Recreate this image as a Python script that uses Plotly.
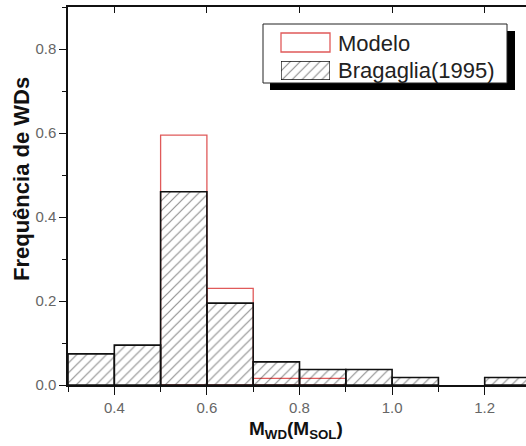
import plotly.graph_objects as go

# ---- data ----
bin_left = [0.3, 0.4, 0.5, 0.6, 0.7, 0.8, 0.9, 1.0, 1.1, 1.2]
modelo = [None, None, 0.595, 0.23, 0.016, 0.016, None, None, None, None]
bragaglia = [0.074, 0.095, 0.46, 0.195, 0.055, 0.037, 0.037, 0.018, None, 0.018]
x_ticks = [0.4, 0.6, 0.8, 1.0, 1.2]
y_ticks = [0.0, 0.2, 0.4, 0.6, 0.8]
bin_w = 0.1

W, H = 526, 446
L, R, T, B = 68, 0, 7, 61
PW, PH = W - L - R, H - T - B


def px(x):
    return (x - L) / PW


def py(y):
    return (H - B - y) / PH


centers = [b + bin_w / 2 for b in bin_left]
FONT = "Liberation Sans, Arial, sans-serif"
HATCH = dict(shape="/", fillmode="overlay", fgcolor="#222", size=7, solidity=0.17)

fig = go.Figure()
fig.add_trace(go.Bar(
    x=centers, y=modelo, width=bin_w, name="Modelo",
    marker=dict(color="rgba(0,0,0,0)", line=dict(color="#e05a5a", width=1.3)),
    showlegend=False, hoverinfo="skip"))
fig.add_trace(go.Bar(
    x=centers, y=bragaglia, width=bin_w, name="Bragaglia(1995)",
    marker=dict(color="rgba(0,0,0,0)", line=dict(color="#111", width=1.6),
                pattern=HATCH),
    showlegend=False, hoverinfo="skip"))
# legend sample (hatched) on auxiliary axes
fig.add_trace(go.Bar(
    x=[0], y=[1], width=1, xaxis="x3", yaxis="y3", cliponaxis=False,
    marker=dict(color="rgba(0,0,0,0)", line=dict(color="#111", width=1.3),
                pattern=HATCH),
    showlegend=False, hoverinfo="skip"))
fig.add_trace(go.Scatter(x=[None], y=[None], xaxis="x2", showlegend=False,
                         hoverinfo="skip"))

shapes = [
    # legend shadow
    dict(type="rect", xref="paper", yref="paper", layer="below",
         x0=px(270), x1=px(515), y0=py(90), y1=py(31),
         fillcolor="black", line=dict(width=0)),
    # legend box
    dict(type="rect", xref="paper", yref="paper", layer="below",
         x0=px(263), x1=px(507), y0=py(83), y1=py(24),
         fillcolor="white", line=dict(color="#222", width=1)),
    # red sample
    dict(type="rect", xref="paper", yref="paper",
         x0=px(281), x1=px(330), y0=py(52), y1=py(33),
         fillcolor="rgba(0,0,0,0)", line=dict(color="#e05a5a", width=1.3)),
]

annotations = [
    dict(text="Modelo", x=px(336), y=py(43), xref="paper", yref="paper",
         xanchor="left", yanchor="middle", showarrow=False,
         font=dict(family=FONT, size=22, color="#222")),
    dict(text="Bragaglia(1995)", x=px(336), y=py(70.5), xref="paper", yref="paper",
         xanchor="left", yanchor="middle", showarrow=False,
         font=dict(family=FONT, size=22, color="#222")),
    dict(text="<b>Frequência de WDs</b>", x=px(21), y=py(179), xref="paper",
         yref="paper", xanchor="center", yanchor="middle", textangle=-90,
         showarrow=False, font=dict(family=FONT, size=22, color="#111")),
    dict(text="<b>M<sub>WD</sub>(M<sub>SOL</sub>)</b>", x=px(296), y=py(430),
         xref="paper", yref="paper", xanchor="center", yanchor="middle",
         showarrow=False, font=dict(family=FONT, size=19, color="#111")),
]

x_range = [0.3, 0.3 + PW / 463.0]

fig.update_layout(
    width=W, height=H, autosize=False,
    margin=dict(l=L, r=R, t=T, b=B, pad=0),
    paper_bgcolor="white", plot_bgcolor="white",
    barmode="overlay", showlegend=False,
    font=dict(family=FONT),
    shapes=shapes, annotations=annotations,
    xaxis=dict(range=x_range, tickvals=x_ticks,
               ticktext=[f"{v:.1f}" for v in x_ticks],
               ticks="outside", ticklen=8, tickwidth=1.3, tickcolor="#111",
               minor=dict(ticks="outside", ticklen=5, tickwidth=1.2,
                          tickcolor="#111", tick0=0.3, dtick=0.1),
               showline=True, linecolor="#111", linewidth=1.5,
               showgrid=False, zeroline=False,
               tickfont=dict(family=FONT, size=15, color="#666")),
    xaxis2=dict(overlaying="x", side="top", matches="x", range=x_range,
                tickvals=x_ticks, ticks="inside", ticklen=6, tickwidth=1.3,
                tickcolor="#111", showticklabels=False, showline=True,
                linecolor="#111", linewidth=1.5, showgrid=False,
                zeroline=False),
    yaxis=dict(range=[0, 0.9], tickvals=y_ticks,
               ticktext=[f"{v:.1f}" for v in y_ticks],
               ticks="outside", ticklen=7, tickwidth=1.3, tickcolor="#111",
               minor=dict(ticks="outside", ticklen=4, tickwidth=1.2,
                          tickcolor="#111", tick0=0, dtick=0.1),
               showline=True, linecolor="#111", linewidth=1.5,
               showgrid=False, zeroline=False,
               tickfont=dict(family=FONT, size=15, color="#666")),
    xaxis3=dict(domain=[px(281), px(330)], range=[-0.5, 0.5], visible=False,
                anchor="y3"),
    yaxis3=dict(domain=[py(80), py(61)], range=[0, 1], visible=False,
                anchor="x3"),
)

fig.write_html("out.html")
